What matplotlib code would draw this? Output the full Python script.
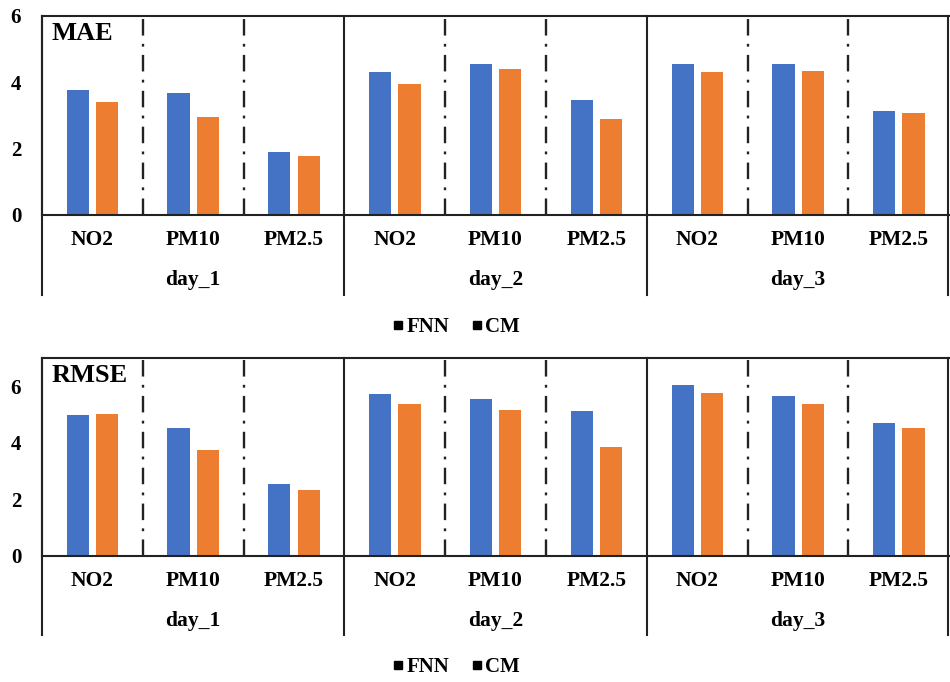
import numpy as np
import matplotlib
matplotlib.use('Agg')
import matplotlib.pyplot as plt
from matplotlib.lines import Line2D
import matplotlib.transforms as mtransforms

pollutants = ['NO2', 'PM10', 'PM2.5']
days = ['day_1', 'day_2', 'day_3']
mae_fnn = [3.77, 3.68, 1.89, 4.30, 4.56, 3.47, 4.54, 4.54, 3.13]
mae_cm = [3.42, 2.95, 1.78, 3.95, 4.39, 2.88, 4.30, 4.33, 3.06]
rmse_fnn = [4.98, 4.53, 2.54, 5.74, 5.54, 5.12, 6.06, 5.66, 4.71]
rmse_cm = [5.01, 3.73, 2.35, 5.38, 5.15, 3.84, 5.77, 5.39, 4.51]

plt.rcParams['font.family'] = ['Liberation Serif', 'DejaVu Serif']
plt.rcParams['font.weight'] = 'bold'

blue = '#4472C4'
orange = '#ED7D31'

fig = plt.figure(figsize=(9.5, 6.82), dpi=100)
ax1 = fig.add_axes([0.0442, 0.6848, 0.955, 0.2918])
ax2 = fig.add_axes([0.0442, 0.1848, 0.955, 0.2903])

x = np.arange(len(mae_fnn))
w = 0.22
off = 0.145

def draw(ax, fnn, cm, ymax, title, leg_y):
    ax.bar(x - off, fnn, w, color=blue, zorder=2)
    ax.bar(x + off, cm, w, color=orange, zorder=2)
    ax.set_xlim(-0.5, 8.5)
    ax.set_ylim(0, ymax)
    ax.set_yticks([0, 2, 4, 6])
    ax.tick_params(axis='y', length=0, pad=15, labelsize=15)
    ax.set_xticks([])
    for s in ['top', 'right', 'left', 'bottom']:
        ax.spines[s].set_linewidth(1.5)
        ax.spines[s].set_color('#222222')
    ax.spines['right'].set_visible(False)
    trans = mtransforms.blended_transform_factory(ax.transData, ax.transAxes)
    for xv in [0.5, 1.5, 3.5, 4.5, 6.5, 7.5]:
        ax.axvline(xv, color='#222222', lw=1.7, linestyle=(0, (7, 3.5, 1.2, 3.5)), zorder=1)
    for xv in [-0.5, 2.5, 5.5, 8.49]:
        ax.add_line(Line2D([xv, xv], [1, -0.40], transform=trans, color='#222222',
                           lw=1.5, clip_on=False))
    for i in range(len(x)):
        ax.text(i, -0.126, pollutants[i % 3], transform=trans, ha='center', va='center',
                fontsize=15.5, fontweight='bold')
    for j, d in enumerate(days):
        ax.text(3 * j + 1, -0.327, d, transform=trans, ha='center', va='center',
                fontsize=15.5, fontweight='bold')
    ax.text(0.01, 0.97, title, transform=ax.transAxes, ha='left', va='top',
            fontsize=19, fontweight='bold')
    handles = [Line2D([], [], marker='s', color='black', linestyle='none', markersize=6),
               Line2D([], [], marker='s', color='black', linestyle='none', markersize=6)]
    fig.legend(handles, ['FNN', 'CM'], loc='center', bbox_to_anchor=(0.48, leg_y), ncol=2,
               frameon=False, handletextpad=0.1, columnspacing=1.0, handlelength=0.6,
               prop={'size': 15, 'weight': 'bold'})

draw(ax1, mae_fnn, mae_cm, 6, 'MAE', 1 - 327 / 682)
draw(ax2, rmse_fnn, rmse_cm, 7, 'RMSE', 1 - 667 / 682)

fig.savefig('out.png', dpi=100)
